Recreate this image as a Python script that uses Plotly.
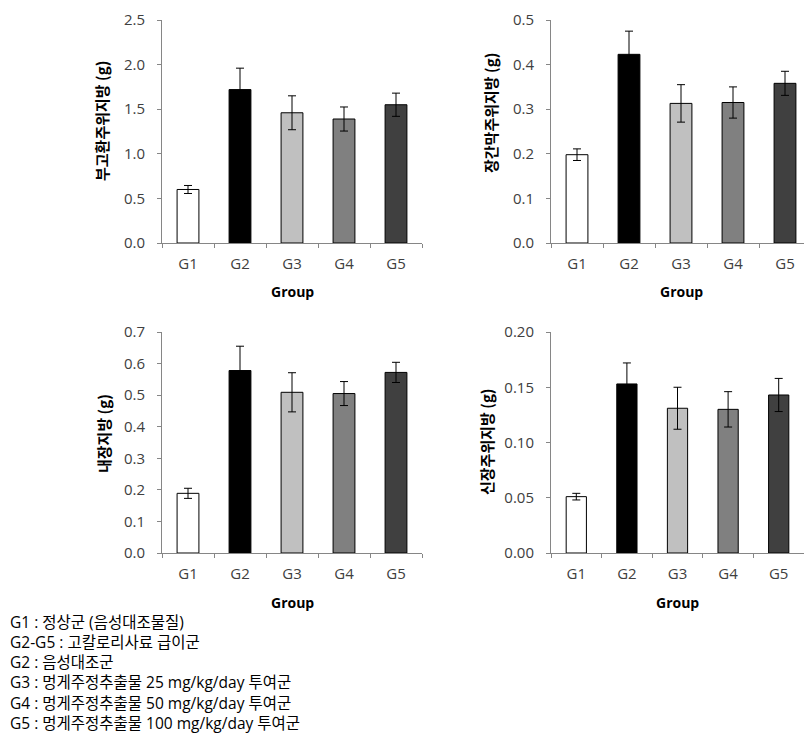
import plotly.graph_objects as go

groups = ["G1", "G2", "G3", "G4", "G5"]
bar_colors = ["#ffffff", "#000000", "#c0c0c0", "#808080", "#404040"]

epi_fat = [0.60, 1.72, 1.46, 1.39, 1.55]
epi_err = [0.045, 0.24, 0.19, 0.135, 0.13]

mes_fat = [0.198, 0.423, 0.313, 0.315, 0.358]
mes_err = [0.013, 0.052, 0.042, 0.035, 0.027]

vis_fat = [0.189, 0.578, 0.509, 0.505, 0.572]
vis_err = [0.016, 0.077, 0.062, 0.038, 0.032]

ren_fat = [0.051, 0.153, 0.131, 0.130, 0.143]
ren_err = [0.003, 0.019, 0.019, 0.016, 0.015]

y_titles = ["부고환주위지방 (g)", "장간막주위지방 (g)", "내장지방 (g)", "신장주위지방 (g)"]
y_ranges = [[0, 2.5], [0, 0.5], [0, 0.7], [0, 0.2]]
y_dticks = [0.5, 0.1, 0.1, 0.05]
y_formats = [".1f", ".1f", ".1f", ".2f"]
x_title = "Group"

notes = [
    "G1 : 정상군 (음성대조물질)",
    "G2-G5 : 고칼로리사료 급이군",
    "G2 : 음성대조군",
    "G3 : 멍게주정추출물 25 mg/kg/day 투여군",
    "G4 : 멍게주정추출물 50 mg/kg/day 투여군",
    "G5 : 멍게주정추출물 100 mg/kg/day 투여군",
]

# page body has an 8px margin; place everything relative to the figure's own origin
OFF = 8
W, H = 812 - OFF, 734 - OFF
FONT = "Open Sans, Noto Sans CJK KR"
KFONT = "Noto Sans CJK KR"

# panel pixel boxes in screen coords: (left, right, top, bottom)
boxes = [(162, 422, 20, 243), (551, 811, 20, 243), (162, 422, 332, 553), (551, 804, 332, 553)]
ytitle_pos = [(102, 121), (491, 113), (103, 434), (487, 442)]
xtitle_y = [292, 292, 602, 602]
bar_widths = [0.42, 0.42, 0.42, 0.40]

data_sets = [(epi_fat, epi_err), (mes_fat, mes_err), (vis_fat, vis_err), (ren_fat, ren_err)]


def px(x):
    return (x - OFF) / W


def py(y):
    return (H - (y - OFF)) / H


fig = go.Figure()
annotations = []
for i, ((vals, errs), box) in enumerate(zip(data_sets, boxes)):
    xa = "x" if i == 0 else f"x{i+1}"
    ya = "y" if i == 0 else f"y{i+1}"
    fig.add_trace(go.Bar(
        x=groups, y=vals, xaxis=xa, yaxis=ya,
        marker=dict(color=bar_colors, line=dict(color="#000000", width=1)),
        width=bar_widths[i],
        error_y=dict(type="data", array=errs, visible=True, color="#000000", thickness=1, width=4),
        showlegend=False,
    ))
    l, r, t, b = box
    axis_common = dict(showline=True, linecolor="#868686", linewidth=1, showgrid=False,
                       ticks="outside", tickcolor="#868686", ticklen=4, automargin=False,
                       tickfont=dict(family=FONT, size=15, color="#404040"))
    xkey = "xaxis" if i == 0 else f"xaxis{i+1}"
    ykey = "yaxis" if i == 0 else f"yaxis{i+1}"
    fig.update_layout(**{
        xkey: dict(domain=[max(0, px(l)), min(1, px(r))], anchor=ya, tickson="boundaries",
                   type="category", ticklabelstandoff=7, **axis_common),
        ykey: dict(domain=[py(b), py(t)], anchor=xa, range=y_ranges[i],
                   dtick=y_dticks[i], tick0=0, tickformat=y_formats[i], zeroline=False,
                   ticklabelstandoff=9, **axis_common),
    })
    tx, ty = ytitle_pos[i]
    annotations.append(dict(text=f"<b>{y_titles[i]}</b>", x=px(tx), y=py(ty),
                            xref="paper", yref="paper", showarrow=False, textangle=-90,
                            xanchor="center", yanchor="middle",
                            font=dict(family=KFONT, size=15, color="#000000")))
    annotations.append(dict(text=f"<b>{x_title}</b>", x=px((l + r) / 2), y=py(xtitle_y[i]),
                            xref="paper", yref="paper", showarrow=False,
                            xanchor="center", yanchor="middle",
                            font=dict(family=FONT, size=14, color="#000000")))

annotations.append(dict(text="<br>".join(notes), x=px(8), y=py(672.5), xref="paper", yref="paper",
                        showarrow=False, xanchor="left", yanchor="middle", align="left",
                        font=dict(family=FONT, size=15.5, color="#000000")))

fig.update_layout(width=W, height=H, margin=dict(l=0, r=0, t=0, b=0, pad=0, autoexpand=False),
                  paper_bgcolor="#ffffff", plot_bgcolor="#ffffff",
                  annotations=annotations, bargap=0.58)

fig.write_html("out.html")
